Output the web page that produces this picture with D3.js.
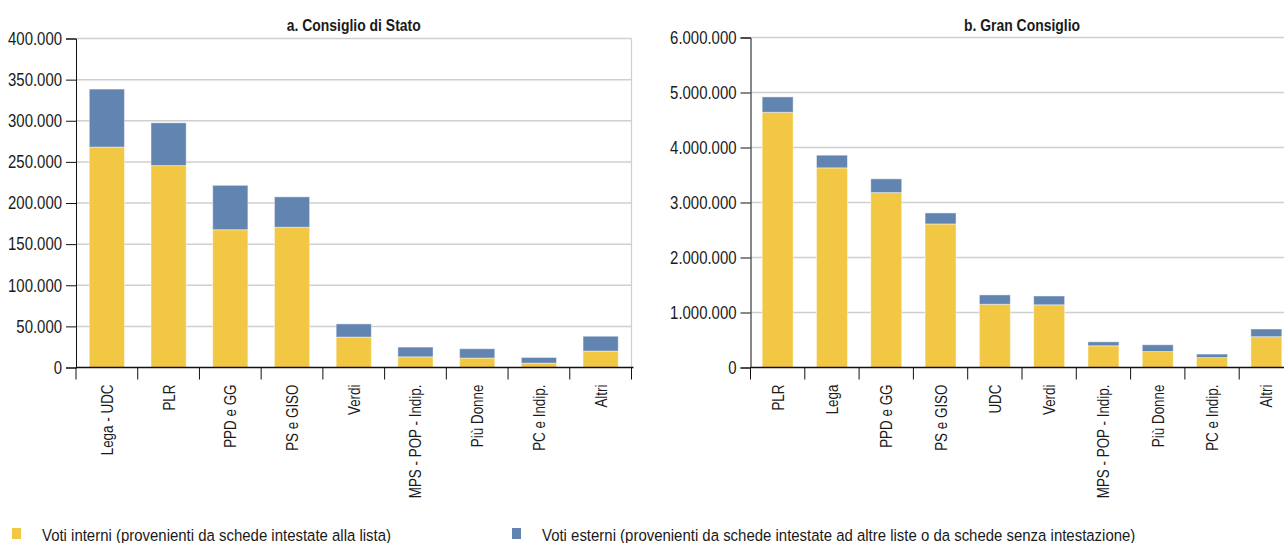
<!DOCTYPE html>
<html>
<head>
<meta charset="utf-8">
<script src="https://cdn.jsdelivr.net/npm/d3@7"></script>
<style>
  html, body { margin: 0; padding: 0; background: #fff; }
  svg { display: block; }
  text { font-family: "Liberation Sans", Arial, sans-serif; fill: #1a1a1a; }
</style>
</head>
<body>
<svg id="chart" width="1284" height="543"></svg>
<script>
// ---- Data ----
const catsA = ["Lega - UDC", "PLR", "PPD e GG", "PS e GISO", "Verdi", "MPS - POP - Indip.", "Più Donne", "PC e Indip.", "Altri"];
const internA = [268000, 245500, 167500, 170500, 37000, 13000, 11500, 5300, 20000];
const externA = [70500, 52000, 54000, 37000, 16000, 11800, 11300, 6900, 18000];
const ticksA = [0, 50000, 100000, 150000, 200000, 250000, 300000, 350000, 400000];

const catsB = ["PLR", "Lega", "PPD e GG", "PS e GISO", "UDC", "Verdi", "MPS - POP - Indip.", "Più Donne", "PC e Indip.", "Altri"];
const internB = [4640000, 3630000, 3180000, 2610000, 1150000, 1140000, 395000, 290000, 180000, 560000];
const externB = [280000, 230000, 250000, 200000, 170000, 160000, 72000, 123000, 64000, 140000];
const ticksB = [0, 1000000, 2000000, 3000000, 4000000, 5000000, 6000000];

const titleA = "a. Consiglio di Stato";
const titleB = "b. Gran Consiglio";
const legendLabels = ["Voti interni (provenienti da schede intestate alla lista)",
                      "Voti esterni (provenienti da schede intestate ad altre liste o da schede senza intestazione)"];
const colors = ["#F2C744", "#6284B1"];

const locale = d3.formatLocale({decimal: ",", thousands: ".", grouping: [3], currency: ["", "€"]});
const fmt = locale.format(",d");

// horizontal compression to imitate the condensed typeface
const sTick = 0.83, sXlab = 0.79, sLeg = 0.88, sTitle = 0.82;

const svg = d3.select("#chart");

function panel(cfg) {
  const g = svg.append("g");
  const x = d3.scaleBand().domain(cfg.cats).range([cfg.x0, cfg.x1]).paddingInner(0.43).paddingOuter(0.215);
  const y = d3.scaleLinear().domain([0, cfg.max]).range([cfg.yBottom, cfg.yTop]);

  // gridlines
  g.append("g").selectAll("line").data(cfg.ticks.filter(d => d > 0)).join("line")
    .attr("x1", cfg.x0).attr("x2", cfg.gridRight)
    .attr("y1", d => y(d)).attr("y2", d => y(d))
    .attr("stroke", "#cfcfcf").attr("stroke-width", 1.5);
  if (cfg.border) {
    g.append("line").attr("x1", cfg.x1).attr("x2", cfg.x1)
      .attr("y1", y(cfg.max)).attr("y2", y(0))
      .attr("stroke", "#cfcfcf").attr("stroke-width", 1.2);
  }

  // stacked bars
  const rows = cfg.cats.map((c, i) => ({cat: c, intern: cfg.intern[i], extern: cfg.extern[i]}));
  const stack = d3.stack().keys(["intern", "extern"])(rows);
  g.append("g").selectAll("g").data(stack).join("g")
    .attr("fill", (d, i) => colors[i])
    .selectAll("rect").data(d => d).join("rect")
      .attr("x", d => x(d.data.cat))
      .attr("width", x.bandwidth())
      .attr("y", d => y(d[1]))
      .attr("height", d => y(d[0]) - y(d[1]))
      .attr("stroke", "#ffffff").attr("stroke-opacity", 0.45).attr("stroke-width", 1);

  // y axis
  const ya = d3.axisLeft(y).tickValues(cfg.ticks).tickFormat(fmt).tickSize(10).tickPadding(3);
  const yg = g.append("g").attr("transform", `translate(${cfg.x0},0)`).call(ya);
  yg.select(".domain").attr("stroke", "#111");
  yg.selectAll(".tick line").attr("stroke", "#111");
  yg.selectAll(".tick text")
    .attr("font-size", 18).attr("fill", "#1a1a1a")
    .style("font-family", '"Liberation Sans", Arial, sans-serif')
    .attr("x", -14 / sTick)
    .attr("transform", `scale(${sTick},1)`);

  // x axis: line + ticks at band boundaries
  const xg = g.append("g");
  xg.append("line").attr("x1", cfg.x0).attr("x2", cfg.x1 + 2).attr("y1", y(0)).attr("y2", y(0))
    .attr("stroke", "#111").attr("stroke-width", 1.3);
  const step = x.step();
  const bounds = d3.range(cfg.cats.length + 1).map(i => cfg.x0 + i * step);
  xg.selectAll("line.tk").data(bounds).join("line").attr("class", "tk")
    .attr("x1", d => d).attr("x2", d => d)
    .attr("y1", y(0)).attr("y2", y(0) + 12)
    .attr("stroke", "#111").attr("stroke-width", 1);
  xg.selectAll("text").data(cfg.cats).join("text")
    .attr("transform", d => `translate(${x(d) + x.bandwidth() / 2 + 6},${y(0) + 17}) rotate(-90) scale(${sXlab},1)`)
    .attr("text-anchor", "end")
    .attr("font-size", 17)
    .text(d => d);

  // title
  g.append("text")
    .attr("transform", `translate(${(cfg.x0 + cfg.x1) / 2},31) scale(${sTitle},1)`)
    .attr("text-anchor", "middle").attr("font-size", 17).attr("font-weight", "bold")
    .text(cfg.title);
}

panel({cats: catsA, intern: internA, extern: externA, ticks: ticksA, max: 400000,
       x0: 76, x1: 631.5, yTop: 38.5, yBottom: 367.5, gridRight: 631.5, border: true, title: titleA});
panel({cats: catsB, intern: internB, extern: externB, ticks: ticksB, max: 6000000,
       x0: 750.5, x1: 1293.5, yTop: 37.5, yBottom: 367.5, gridRight: 1284, border: false, title: titleB});

// legend
const leg = svg.append("g");
const legPos = [{sx: 12, tx: 42}, {sx: 512, tx: 542}];
legendLabels.forEach((lab, i) => {
  leg.append("rect").attr("x", legPos[i].sx).attr("y", 528).attr("width", 9).attr("height", 11).attr("fill", colors[i]);
  leg.append("text").attr("transform", `translate(${legPos[i].tx},541) scale(${sLeg},1)`)
    .attr("font-size", 17).text(lab);
});
</script>
</body>
</html>
